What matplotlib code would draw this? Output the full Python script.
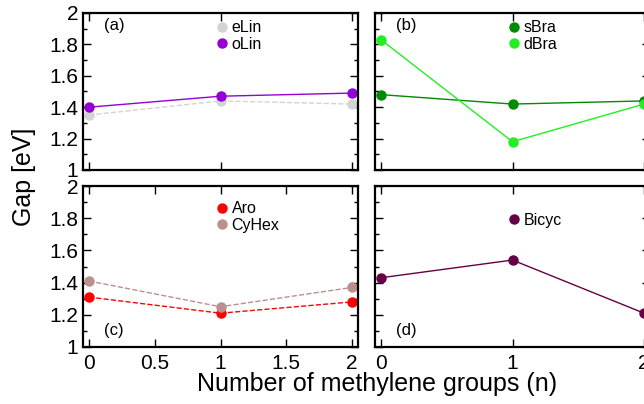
import matplotlib.pyplot as plt
from matplotlib.lines import Line2D
from matplotlib.ticker import MultipleLocator

plt.rcParams['font.family'] = ['Liberation Sans', 'DejaVu Sans']

# Dados
n = [0, 1, 2]
elin = [1.35, 1.44, 1.42]
olin = [1.40, 1.47, 1.49]
sbra = [1.48, 1.42, 1.44]
dbra = [1.83, 1.18, 1.42]
aro = [1.31, 1.21, 1.28]
cyhex = [1.41, 1.25, 1.37]
bicyc = [1.43, 1.54, 1.21]

fig = plt.figure(figsize=(6.44, 4.04), dpi=100)

W, H = 644, 404
def eixo(x0, y0, x1, y1):
    return fig.add_axes([x0 / W, 1 - y1 / H, (x1 - x0) / W, (y1 - y0) / H])

ax_a = eixo(83, 13, 358, 170)
ax_b = eixo(375, 13, 650, 170)
ax_c = eixo(83, 186, 358, 347)
ax_d = eixo(375, 186, 650, 347)

ms = 6.5
ax_a.plot(n, elin, '--', color='#d3d3d3', lw=1, marker='o', ms=ms, label='eLin')
ax_a.plot(n, olin, '-', color='#9400d3', lw=1, marker='o', ms=ms, label='oLin')
ax_b.plot(n, sbra, '-', color='#008b00', lw=1, marker='o', ms=ms, label='sBra')
ax_b.plot(n, dbra, '-', color='#22ee22', lw=1, marker='o', ms=ms, label='dBra')
ax_c.plot(n, aro, '--', color='#ff0000', lw=1, marker='o', ms=ms, label='Aro')
ax_c.plot(n, cyhex, '--', color='#bc8f8f', lw=1, marker='o', ms=ms, label='CyHex')
ax_d.plot(n, bicyc, '-', color='#660044', lw=1, marker='o', ms=ms, label='Bicyc')

pos_legenda = {ax_a: 0.995, ax_b: 0.995, ax_c: 0.945, ax_d: 0.875}

for ax, rot in [(ax_a, '(a)'), (ax_b, '(b)'), (ax_c, '(c)'), (ax_d, '(d)')]:
    ax.set_xlim(-0.045, 2.045)
    ax.set_ylim(1, 2)
    ax.yaxis.set_major_locator(MultipleLocator(0.2))
    ax.yaxis.set_minor_locator(MultipleLocator(0.1))
    ax.tick_params(which='both', direction='in', top=True, right=True, labelsize=15)
    ax.tick_params(which='major', length=6, width=1)
    ax.tick_params(which='minor', length=3, width=1)
    ax.tick_params(axis='x', pad=5)
    for s in ax.spines.values():
        s.set_linewidth(1.6)
    yl = 0.1 if ax in (ax_c, ax_d) else 0.92
    ax.text(0.075, yl, rot, transform=ax.transAxes, fontsize=12, va='center')
    handles, labels = ax.get_legend_handles_labels()
    hs = [Line2D([], [], ls='none', marker='o', ms=ms, color=h.get_color()) for h in handles]
    ax.legend(hs, labels, loc='upper left', bbox_to_anchor=(0.465, pos_legenda[ax]), frameon=False,
              fontsize=11.5, handlelength=0.6, handletextpad=0.3, labelspacing=0.1,
              borderaxespad=0)

ax_c.xaxis.set_major_locator(MultipleLocator(0.5))
for ax in (ax_a, ax_b, ax_d):
    ax.xaxis.set_major_locator(MultipleLocator(1))
    ax.xaxis.set_minor_locator(MultipleLocator(1))
ax_c.set_xticks([0, 0.5, 1, 1.5, 2], ['0', '0.5', '1', '1.5', '2'])
ax_d.set_xticks([0, 1, 2], ['0', '1', '2'])
ax_a.tick_params(labelbottom=False)
ax_b.tick_params(labelbottom=False, labelleft=False)
ax_d.tick_params(labelleft=False)
for ax in (ax_a, ax_c):
    ax.set_yticks([1, 1.2, 1.4, 1.6, 1.8, 2], ['1', '1.2', '1.4', '1.6', '1.8', '2'])

fig.text(0.037, 0.562, 'Gap [eV]', rotation=90, fontsize=18, ha='center', va='center')
fig.text(0.585, 0.05, 'Number of methylene groups (n)', fontsize=18, ha='center', va='center')

plt.savefig('out.png', dpi=100)
plt.close()
